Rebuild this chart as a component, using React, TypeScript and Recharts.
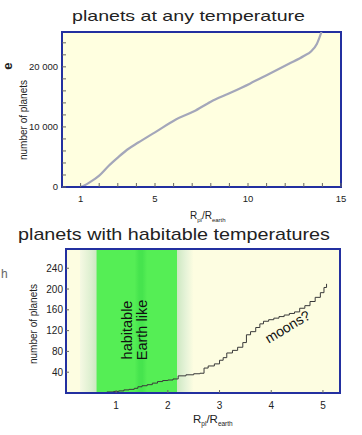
import React from 'react';
import { LineChart, Line, XAxis, YAxis, CartesianGrid, ReferenceArea } from 'recharts';

// planets at any temperature (cumulative count vs radius)
const topRadius = [1.0, 1.2, 1.5, 2.0, 2.5, 3.0, 3.5, 4.1, 5.0, 6.1, 7.1, 8.0, 9.0, 10.1, 11.0, 12.2, 13.0, 13.4, 13.7, 13.95];
const topCount = [0, 250, 800, 1900, 3500, 4900, 6200, 7400, 9100, 11200, 12600, 14200, 15600, 17200, 18600, 20500, 21800, 22600, 23800, 25800];
const topXTicks = [0, 1, 2, 3, 4, 5, 6, 7, 8, 9, 10, 11, 12, 13, 14, 15];
const topXLabels = [1, 5, 10, 15];
const topYTicks = [0, 2000, 4000, 6000, 8000, 10000, 12000, 14000, 16000, 18000, 20000, 22000, 24000];
const topYLabels = [0, 10000, 20000];

// planets with habitable temperatures (step curve)
const stepRadius = [0.82, 0.95, 1.05, 1.15, 1.25, 1.35, 1.42, 1.5, 1.6, 1.7, 1.8, 1.9, 2.0, 2.1, 2.2, 2.35, 2.5, 2.62, 2.7, 2.78, 2.9, 3.0, 3.07, 3.14, 3.25, 3.35, 3.45, 3.52, 3.6, 3.7, 3.78, 3.85, 3.95, 4.05, 4.15, 4.25, 4.35, 4.45, 4.55, 4.65, 4.75, 4.85, 4.95, 5.02, 5.07];
const stepCount = [2, 3, 4, 6, 7, 9, 12, 14, 16, 19, 22, 24, 25, 27, 33, 35, 37, 38, 48, 52, 56, 63, 68, 77, 82, 88, 97, 112, 118, 126, 133, 138, 141, 144, 147, 150, 153, 156, 163, 168, 176, 184, 193, 203, 210];
const bottomXTicks = [1, 2, 3, 4, 5];
const bottomYTicks = [40, 80, 120, 160, 200, 240];

const topData = topRadius.map((r, i) => ({ r, n: topCount[i] }));
const stepData = stepRadius.map((r, i) => ({ r, n: stepCount[i] }));

const FONT = '"Liberation Sans", Arial, Helvetica, sans-serif';
const FRAME = '#2330a0';
const TICK = '#666';
const tickStyle = { fontSize: 9.5, fill: '#222', fontFamily: FONT };

const App: React.FC = () => {
  return (
    <div style={{ position: 'absolute', left: 0, top: 0, width: 362, height: 435, background: '#fff', fontFamily: FONT }}>
      <div style={{ position: 'absolute', left: 0, top: 0 }}>
        <LineChart width={362} height={215} data={topData} margin={{ top: 32, right: 21, left: 0, bottom: 0 }}>
          <CartesianGrid fill="#ffffe0" horizontal={false} vertical={false} />
          <XAxis
            dataKey="r"
            type="number"
            domain={[0, 15]}
            allowDataOverflow
            ticks={topXTicks}
            interval={0}
            height={28}
            tickSize={-4}
            tickMargin={12}
            tickFormatter={(v: number) => (topXLabels.includes(v) ? String(v) : '')}
            tick={tickStyle}
            tickLine={{ stroke: TICK }}
            axisLine={{ stroke: FRAME, strokeWidth: 2 }}
          />
          <XAxis
            xAxisId="top"
            dataKey="r"
            orientation="top"
            type="number"
            domain={[0, 15]}
            allowDataOverflow
            ticks={topXTicks}
            interval={0}
            height={0}
            tickSize={-4}
            tickFormatter={() => ''}
            tickLine={{ stroke: TICK }}
            axisLine={{ stroke: FRAME, strokeWidth: 2 }}
          />
          <YAxis
            type="number"
            domain={[0, 25800]}
            allowDataOverflow
            ticks={topYTicks}
            interval={0}
            width={62}
            tickSize={-4}
            tickMargin={8}
            tickFormatter={(v: number) => (v === 0 ? '0' : topYLabels.includes(v) ? `${v / 1000} 000` : '')}
            tick={tickStyle}
            tickLine={{ stroke: TICK }}
            axisLine={{ stroke: FRAME, strokeWidth: 2 }}
          />
          <YAxis
            yAxisId="right"
            orientation="right"
            type="number"
            domain={[0, 25800]}
            allowDataOverflow
            ticks={topYTicks}
            interval={0}
            width={0}
            tickSize={-4}
            tickFormatter={() => ''}
            tickLine={{ stroke: TICK }}
            axisLine={{ stroke: FRAME, strokeWidth: 2 }}
          />
          <ReferenceArea x1={0} x2={15} y1={0} y2={25800} fill="none" stroke={FRAME} strokeWidth={2} ifOverflow="visible" />
          <Line
            xAxisId="top"
            yAxisId="right"
            type="monotone"
            dataKey="n"
            stroke="none"
            dot={false}
            activeDot={false}
            isAnimationActive={false}
          />
          <Line
            type="monotone"
            dataKey="n"
            stroke="#a4a7ba"
            strokeWidth={2.2}
            dot={false}
            activeDot={false}
            isAnimationActive={false}
          />
        </LineChart>
      </div>

      <div style={{ position: 'absolute', left: 0, top: 215 }}>
        <LineChart width={362} height={220} data={stepData} margin={{ top: 34, right: 22, left: 0, bottom: 0 }}>
          <defs>
            <linearGradient id="habZone" x1="0" y1="0" x2="1" y2="0">
              <stop offset="0" stopColor="#f6f9e3" />
              <stop offset="0.1" stopColor="#dcefcf" />
              <stop offset="0.145" stopColor="#cde8c2" />
              <stop offset="0.146" stopColor="#55ee55" />
              <stop offset="0.48" stopColor="#55ee55" />
              <stop offset="0.52" stopColor="#46e44e" />
              <stop offset="0.55" stopColor="#46e44e" />
              <stop offset="0.59" stopColor="#55ee55" />
              <stop offset="0.85" stopColor="#55ee55" />
              <stop offset="0.851" stopColor="#cde8c2" />
              <stop offset="0.93" stopColor="#e6f3d8" />
              <stop offset="1" stopColor="#fdfde1" />
            </linearGradient>
          </defs>
          <CartesianGrid fill="#fdfde1" horizontal={false} vertical={false} />
          <ReferenceArea x1={0.3} x2={2.5} fill="url(#habZone)" fillOpacity={1} stroke="none" />
          <ReferenceArea x1={0.03} x2={5.33} y1={0} y2={277} fill="none" stroke={FRAME} strokeWidth={2} ifOverflow="visible" />
          <XAxis
            dataKey="r"
            type="number"
            domain={[0.03, 5.33]}
            allowDataOverflow
            ticks={bottomXTicks}
            interval={0}
            height={42}
            tickSize={-3}
            tickMargin={12}
            tick={{ ...tickStyle, fontSize: 10 }}
            tickLine={{ stroke: TICK }}
            axisLine={{ stroke: FRAME, strokeWidth: 2 }}
          />
          <YAxis
            type="number"
            domain={[0, 277]}
            allowDataOverflow
            ticks={bottomYTicks}
            interval={0}
            width={66}
            tickSize={-3}
            tickMargin={6}
            tick={{ ...tickStyle, fontSize: 10 }}
            tickLine={{ stroke: TICK }}
            axisLine={{ stroke: FRAME, strokeWidth: 2 }}
          />
          <Line
            type="stepAfter"
            dataKey="n"
            stroke="#3a3a3a"
            strokeWidth={1}
            dot={false}
            activeDot={false}
            isAnimationActive={false}
          />
        </LineChart>
      </div>

      <svg
        width={362}
        height={435}
        style={{ position: 'absolute', left: 0, top: 0, pointerEvents: 'none' }}
        fontFamily={FONT}
      >
        <text x={188.5} y={20.5} textAnchor="middle" fontSize={15} fill="#222" textLength={233} lengthAdjust="spacingAndGlyphs">
          planets at any temperature
        </text>
        <text x={174} y={240} textAnchor="middle" fontSize={17} fill="#222" textLength={312} lengthAdjust="spacingAndGlyphs">
          planets with habitable temperatures
        </text>

        <text x={12} y={66} textAnchor="middle" fontSize={13} fontWeight="bold" fill="#222" transform="rotate(-90 12 66)">
          e
        </text>
        <text x={1} y={278} fontSize={12} fill="#666">
          h
        </text>

        <text x={26.5} y={120} textAnchor="middle" fontSize={10} fill="#222" transform="rotate(-90 26.5 120)">
          number of planets
        </text>
        <text x={37} y={324} textAnchor="middle" fontSize={10} fill="#222" transform="rotate(-90 37 324)">
          number of planets
        </text>

        <text x={190} y={219} fontSize={10} fill="#222">
          R<tspan fontSize={6} dy={2.5}>pl</tspan>
          <tspan dy={-2.5}>/R</tspan>
          <tspan fontSize={6} dy={2.5}>earth</tspan>
        </text>
        <text x={193} y={423} fontSize={11.5} fill="#222">
          R<tspan fontSize={6.5} dy={3}>pl</tspan>
          <tspan dy={-3}>/R</tspan>
          <tspan fontSize={6.5} dy={3}>earth</tspan>
        </text>

        <text x={131.5} y={330} textAnchor="middle" fontSize={14.5} fill="#111" transform="rotate(-90 131.5 330)">
          habitable
        </text>
        <text x={147} y={330} textAnchor="middle" fontSize={14.5} fill="#111" transform="rotate(-90 147 330)">
          Earth like
        </text>
        <text x={290} y={331} textAnchor="middle" fontSize={14} fill="#111" transform="rotate(-31 290 331)">
          moons?
        </text>
      </svg>
    </div>
  );
};

export default App;
